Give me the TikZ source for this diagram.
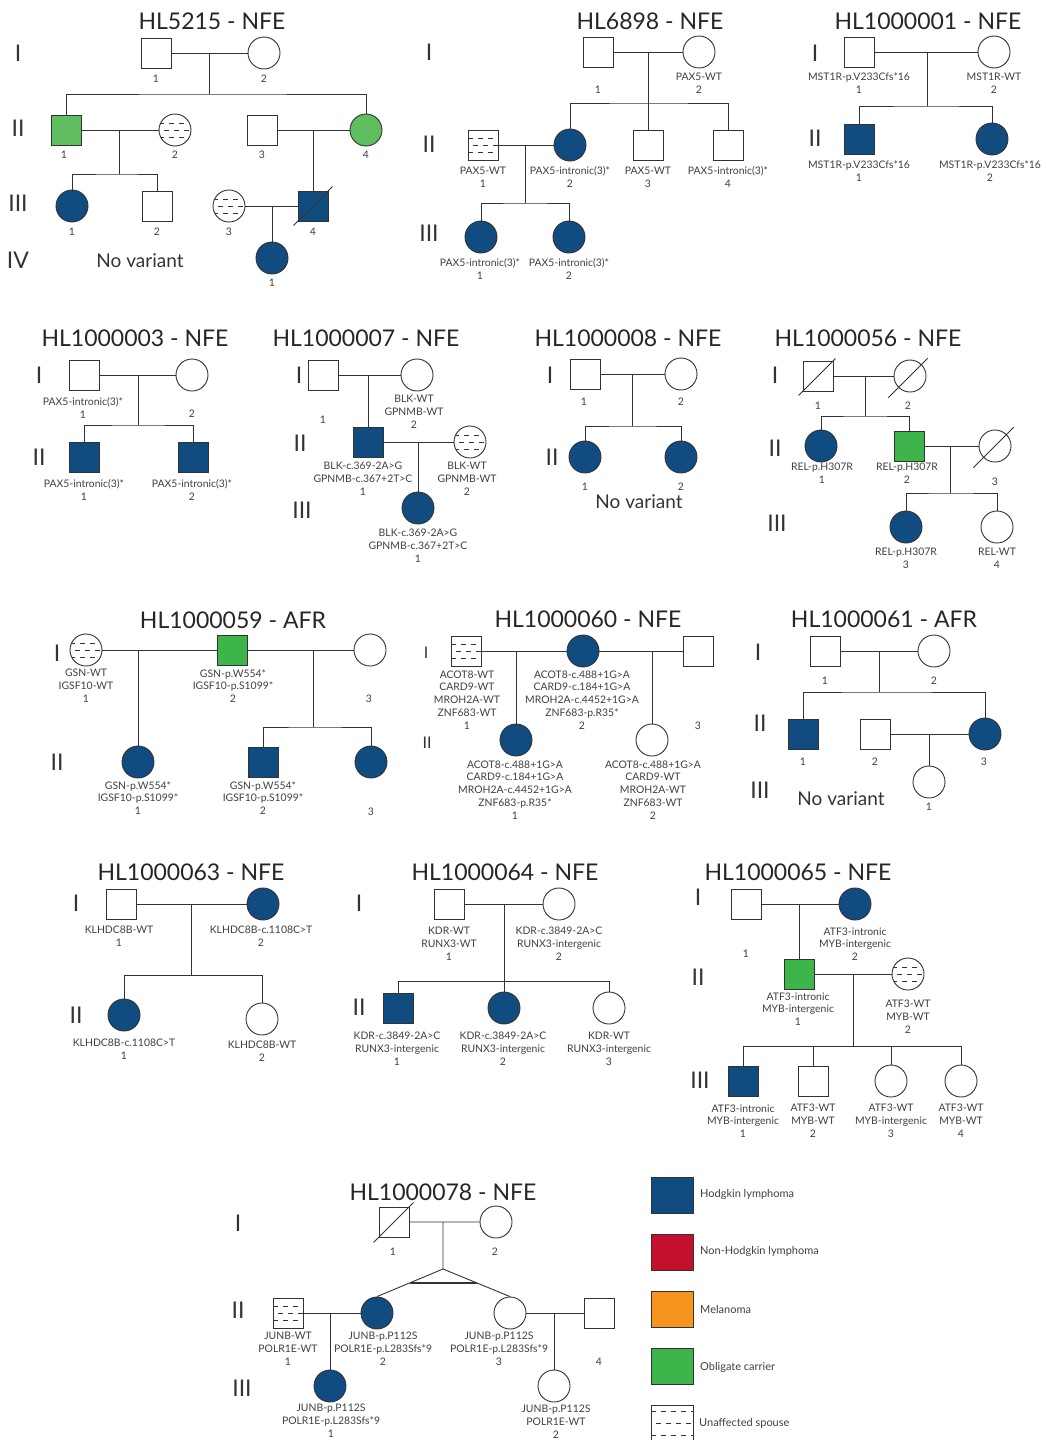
\documentclass[tikz,border=0pt]{standalone}
\usepackage{fontspec}
\setmainfont{Lato}
\usetikzlibrary{calc}
\definecolor{hlblue}{RGB}{17,76,128}
\definecolor{nhlred}{RGB}{196,16,46}
\definecolor{melorange}{RGB}{247,148,29}
\definecolor{ocgreen}{RGB}{61,181,74}
\definecolor{ocgreenlt}{RGB}{96,189,96}
\definecolor{linec}{RGB}{51,51,51}
\definecolor{textc}{RGB}{64,64,64}
\tikzset{
  link/.style={draw=linec, line width=0.9pt},
  ped/.style={draw=linec, line width=0.9pt, inner sep=0pt, fill=white},
  male/.style={ped, rectangle, minimum size=30pt},
  female/.style={ped, circle, minimum size=32pt},
  hl/.style={fill=hlblue},
  oc/.style={fill=ocgreen},
  oclt/.style={fill=ocgreenlt},
  spouse/.style={path picture={
    \foreach \dy/\ph in {#1/0,0/5,-#1/0}
      \draw[linec, line width=0.6pt, dash pattern=on 5pt off 5pt, dash phase=\ph pt]
        ([yshift=\dy pt]path picture bounding box.west) --
        ([yshift=\dy pt]path picture bounding box.east);}},
  spouse/.default=7,
  lbl/.style={font=\fontsize{10.4}{12.8}\selectfont, align=center, inner sep=0pt, text=textc},
  title/.style={font=\fontsize{23}{26}\selectfont, inner sep=0pt, text=black!85},
  gen/.style={font=\fontsize{23}{26}\selectfont, inner sep=0pt, text=black!80},
  smallgen/.style={font=\fontsize{16}{18}\selectfont, inner sep=0pt, text=black!80},
  note/.style={font=\fontsize{19}{22}\selectfont, inner sep=0pt, text=black!80},
  legbox/.style={draw=linec, line width=1pt, inner sep=0pt, minimum width=42pt, minimum height=36pt},
  leglbl/.style={font=\fontsize{11}{13}\selectfont, inner sep=0pt, anchor=west, text=textc}
}
% slash through a deceased person
\newcommand{\deadmark}[3]{\draw[link] ([shift={(-#2,#2)}]#1.south west) -- ([shift={(#3,-#3)}]#1.north east);}

\begin{document}
\begin{tikzpicture}[x=1pt,y=-1pt]
\fill[white] (0,0) rectangle (1045,1440);
\useasboundingbox (0,0) rectangle (1045,1440);

% HL5215
\node[title] (a0) at (212,21) {HL5215 - NFE};
\node[gen] (a0i) at (18,53) {I};
\node[gen] (a0ii) at (18,128) {II};
\node[gen] (a0iii) at (18,203) {III};
\node[gen] (a0iv) at (18,260) {IV};
\node[male] (a11) at (156,53) {};
\node[female] (a12) at (264,53) {};
\node[lbl] (a11l) at (156,79) {1};
\node[lbl] (a12l) at (264,79) {2};
\coordinate (a1m) at (209,53);
\coordinate (a1s) at (209,94);
\node[male,oclt] (a21) at (66,130) {};
\node[female,spouse] (a22) at (175,130) {};
\node[male] (a23) at (262,130) {};
\node[female,oclt] (a24) at (366,130) {};
\node[lbl] (a21l) at (64,155) {1};
\node[lbl] (a22l) at (175,155) {2};
\node[lbl] (a23l) at (262,155) {3};
\node[lbl] (a24l) at (366,155) {4};
\coordinate (a2m) at (119,130);
\coordinate (a2s) at (119,174);
\coordinate (a3m) at (313,130);
\node[female,hl] (a31) at (72,206) {};
\node[male] (a32) at (157,206) {};
\node[female,spouse] (a33) at (229,206) {};
\node[male,hl] (a34) at (313,206) {};
\node[lbl] (a31l) at (72,232) {1};
\node[lbl] (a32l) at (157,232) {2};
\node[lbl] (a33l) at (229,232) {3};
\node[lbl] (a34l) at (313,232) {4};
\coordinate (a4m) at (272,206);
\node[female,hl] (a41) at (272,258) {};
\node[lbl] (a41l) at (272,283) {1};
\node[note] (a0nv) at (140,261) {No variant};
\draw[link] (a11) -- (a12) (a1m) -- (a1s) (a21.north) |- (a1s) -| (a24.north);
\draw[link] (a21) -- (a22) (a2m) -- (a2s) (a31.north) |- (a2s) -| (a32.north);
\draw[link] (a23) -- (a24) (a3m) -- (a34.north);
\draw[link] (a33) -- (a34) (a4m) -- (a41.north);
\deadmark{a34}{4}{4}

% HL6898
\node[title] (b0) at (650,21) {HL6898 - NFE};
\node[gen] (b0i) at (429,52) {I};
\node[gen] (b0ii) at (429,144) {II};
\node[gen] (b0iii) at (429,233) {III};
\node[male] (b11) at (598,52) {};
\node[female] (b12) at (699,52) {};
\node[lbl] (b11l) at (598,90) {1};
\node[lbl] (b12l) at (699,83) {PAX5-WT\\2};
\coordinate (b1m) at (648,52);
\coordinate (b1s) at (648,103);
\node[male,spouse] (b21) at (483,145) {};
\node[female,hl] (b22) at (570,145) {};
\node[male] (b23) at (648,145) {};
\node[male] (b24) at (728,145) {};
\node[lbl] (b21l) at (483,177) {PAX5-WT\\1};
\node[lbl] (b22l) at (570,177) {PAX5-intronic(3)*\\2};
\node[lbl] (b23l) at (648,177) {PAX5-WT\\3};
\node[lbl] (b24l) at (728,177) {PAX5-intronic(3)*\\4};
\coordinate (b2m) at (525,145);
\coordinate (b2s) at (525,203);
\node[female,hl] (b31) at (481,237) {};
\node[female,hl] (b32) at (569,237) {};
\node[lbl] (b31l) at (480,269) {PAX5-intronic(3)*\\1};
\node[lbl] (b32l) at (569,269) {PAX5-intronic(3)*\\2};
\draw[link] (b11) -- (b12) (b1m) -- (b1s) (b22.north) |- (b1s) -| (b24.north) (b1s) -- (b23.north);
\draw[link] (b21) -- (b22) (b2m) -- (b2s) (b31.north) |- (b2s) -| (b32.north);

% HL1000001
\node[title] (c0) at (928,21) {HL1000001 - NFE};
\node[gen] (c0i) at (815,53) {I};
\node[gen] (c0ii) at (815,138) {II};
\node[male] (c11) at (859,52) {};
\node[female] (c12) at (994,52) {};
\node[lbl] (c11l) at (859,83) {MST1R-p.V233Cfs*16\\1};
\node[lbl] (c12l) at (994,83) {MST1R-WT\\2};
\coordinate (c1m) at (927,52);
\coordinate (c1s) at (927,106);
\node[male,hl] (c21) at (859,139) {};
\node[female,hl] (c22) at (992,139) {};
\node[lbl] (c21l) at (859,171) {MST1R-p.V233Cfs*16\\1};
\node[lbl] (c22l) at (990,171) {MST1R-p.V233Cfs*16\\2};
\draw[link] (c11) -- (c12) (c1m) -- (c1s) (c21.north) |- (c1s) -| (c22.north);

% HL1000003
\node[title] (d0) at (135,338) {HL1000003 - NFE};
\node[gen] (d0i) at (39,375) {I};
\node[gen] (d0ii) at (39,457) {II};
\node[male] (d11) at (84,375) {};
\node[female] (d12) at (192,375) {};
\node[lbl] (d11l) at (83,408) {PAX5-intronic(3)*\\1};
\node[lbl] (d12l) at (192,414) {2};
\coordinate (d1m) at (138,375);
\coordinate (d1s) at (138,425);
\node[male,hl] (d21) at (84,457) {};
\node[male,hl] (d22) at (193,457) {};
\node[lbl] (d21l) at (84,490) {PAX5-intronic(3)*\\1};
\node[lbl] (d22l) at (192,490) {PAX5-intronic(3)*\\2};
\draw[link] (d11) -- (d12) (d1m) -- (d1s) (d21.north) |- (d1s) -| (d22.north);

% HL1000007
\node[title] (e0) at (366,338) {HL1000007 - NFE};
\node[gen] (e0i) at (299,375) {I};
\node[gen] (e0ii) at (300,443) {II};
\node[gen] (e0iii) at (302,510) {III};
\node[male] (e11) at (323,375) {};
\node[female] (e12) at (417,375) {};
\node[lbl] (e11l) at (323,420) {1};
\node[lbl] (e12l) at (414,412) {BLK-WT\\GPNMB-WT\\2};
\coordinate (e1m) at (368,375);
\node[male,hl] (e21) at (368,442) {};
\node[female,spouse] (e22) at (470,442) {};
\node[lbl] (e21l) at (363,479) {BLK-c.369-2A>G\\GPNMB-c.367+2T>C\\1};
\node[lbl] (e22l) at (467,479) {BLK-WT\\GPNMB-WT\\2};
\coordinate (e2m) at (418,442);
\node[female,hl] (e31) at (418,508) {};
\node[lbl] (e31l) at (418,546) {BLK-c.369-2A>G\\GPNMB-c.367+2T>C\\1};
\draw[link] (e11) -- (e12) (e1m) -- (e21.north);
\draw[link] (e21) -- (e22) (e2m) -- (e31.north);

% HL1000008
\node[title] (f0) at (628,338) {HL1000008 - NFE};
\node[gen] (f0i) at (550,375) {I};
\node[gen] (f0ii) at (552,457) {II};
\node[male] (f11) at (585,374) {};
\node[female] (f12) at (681,374) {};
\node[lbl] (f11l) at (584,402) {1};
\node[lbl] (f12l) at (681,402) {2};
\coordinate (f1m) at (632,374);
\coordinate (f1s) at (632,426);
\node[female,hl] (f21) at (585,457) {};
\node[female,hl] (f22) at (681,457) {};
\node[lbl] (f21l) at (585,487) {1};
\node[lbl] (f22l) at (681,487) {2};
\node[note] (f0nv) at (639,502) {No variant};
\draw[link] (f11) -- (f12) (f1m) -- (f1s) (f21.north) |- (f1s) -| (f22.north);

% HL1000056
\node[title] (g0) at (868,338) {HL1000056 - NFE};
\node[gen] (g0i) at (775,375) {I};
\node[gen] (g0ii) at (775,448) {II};
\node[gen] (g0iii) at (777,523) {III};
\node[male] (g11) at (818,376) {};
\node[female] (g12) at (910,376) {};
\node[lbl] (g11l) at (818,406) {1};
\node[lbl] (g12l) at (908,406) {2};
\coordinate (g1m) at (865,376);
\coordinate (g1s) at (865,416);
\node[female,hl] (g21) at (821,446) {};
\node[male,oc] (g22) at (909,446) {};
\node[female] (g23) at (995,446) {};
\node[lbl] (g21l) at (822,473) {REL-p.H307R\\1};
\node[lbl] (g22l) at (907,473) {REL-p.H307R\\2};
\node[lbl] (g23l) at (995,482) {3};
\coordinate (g2m) at (950,446);
\coordinate (g2s) at (950,493);
\node[female,hl] (g31) at (906,527) {};
\node[female] (g32) at (997,527) {};
\node[lbl] (g31l) at (906,558) {REL-p.H307R\\3};
\node[lbl] (g32l) at (997,558) {REL-WT\\4};
\draw[link] (g11) -- (g12) (g1m) -- (g1s) (g21.north) |- (g1s) -| (g22.north);
\draw[link] (g22) -- (g23) (g2m) -- (g2s) (g31.north) |- (g2s) -| (g32.north);
\deadmark{g11}{4}{2}
\deadmark{g12}{10}{6}
\deadmark{g23}{10}{7}

% HL1000059
\node[title] (h0) at (233,620) {HL1000059 - AFR};
\node[gen] (h0i) at (57,653) {I};
\node[gen] (h0ii) at (57,762) {II};
\node[female,spouse] (h11) at (86,650) {};
\node[male,oc] (h12) at (232,650) {};
\node[female] (h13) at (370,650) {};
\node[lbl] (h11l) at (86,686) {GSN-WT\\IGSF10-WT\\1};
\node[lbl] (h12l) at (233,686) {GSN-p.W554*\\IGSF10-p.S1099*\\2};
\node[lbl] (h13l) at (369,699) {3};
\coordinate (h1m) at (138,650);
\coordinate (h2m) at (313,650);
\coordinate (h2s) at (313,727);
\node[female,hl] (h21) at (138,762) {};
\node[male,hl] (h22) at (263,762) {};
\node[female,hl] (h23) at (371,762) {};
\node[lbl] (h21l) at (138,798) {GSN-p.W554*\\IGSF10-p.S1099*\\1};
\node[lbl] (h22l) at (263,798) {GSN-p.W554*\\IGSF10-p.S1099*\\2};
\node[lbl] (h23l) at (371,812) {3};
\draw[link] (h11) -- (h12) (h1m) -- (h21.north);
\draw[link] (h12) -- (h13) (h2m) -- (h2s) (h22.north) |- (h2s) -| (h23.north);

% HL1000060
\node[title] (i0) at (588,619) {HL1000060 - NFE};
\node[smallgen] (i0i) at (426,653) {I};
\node[smallgen] (i0ii) at (427,743) {II};
\node[male,spouse] (i11) at (466,651) {};
\node[female,hl] (i12) at (583,651) {};
\node[male] (i13) at (698,651) {};
\node[lbl] (i11l) at (467,700) {ACOT8-WT\\CARD9-WT\\MROH2A-WT\\ZNF683-WT\\1};
\node[lbl] (i12l) at (582,700) {ACOT8-c.488+1G>A\\CARD9-c.184+1G>A\\MROH2A-c.4452+1G>A\\ZNF683-p.R35*\\2};
\node[lbl] (i13l) at (698,726) {3};
\coordinate (i1m) at (516,651);
\coordinate (i2m) at (652,651);
\node[female,hl] (i21) at (516,740) {};
\node[female] (i22) at (652,740) {};
\node[lbl] (i21l) at (515,790) {ACOT8-c.488+1G>A\\CARD9-c.184+1G>A\\MROH2A-c.4452+1G>A\\ZNF683-p.R35*\\1};
\node[lbl] (i22l) at (653,790) {ACOT8-c.488+1G>A\\CARD9-WT\\MROH2A-WT\\ZNF683-WT\\2};
\draw[link] (i11) -- (i12) (i1m) -- (i21.north);
\draw[link] (i12) -- (i13) (i2m) -- (i22.north);

% HL1000061
\node[title] (j0) at (884,619) {HL1000061 - AFR};
\node[gen] (j0i) at (758,652) {I};
\node[gen] (j0ii) at (760,723) {II};
\node[gen] (j0iii) at (760,790) {III};
\node[male] (j11) at (825,651) {};
\node[female] (j12) at (934,651) {};
\node[lbl] (j11l) at (825,681) {1};
\node[lbl] (j12l) at (934,681) {2};
\coordinate (j1m) at (879,651);
\coordinate (j1s) at (879,692);
\node[male,hl] (j21) at (803,734) {};
\node[male] (j22) at (875,734) {};
\node[female,hl] (j23) at (985,734) {};
\node[lbl] (j21l) at (803,762) {1};
\node[lbl] (j22l) at (875,762) {2};
\node[lbl] (j23l) at (984,762) {3};
\coordinate (j2m) at (929,734);
\node[female] (j31) at (929,782) {};
\node[lbl] (j31l) at (929,807) {1};
\node[note] (j0nv) at (841,799) {No variant};
\draw[link] (j11) -- (j12) (j1m) -- (j1s) (j21.north) |- (j1s) -| (j23.north);
\draw[link] (j22) -- (j23) (j2m) -- (j31.north);

% HL1000063
\node[title] (k0) at (191,872) {HL1000063 - NFE};
\node[gen] (k0i) at (76,903) {I};
\node[gen] (k0ii) at (76,1015) {II};
\node[male] (k11) at (121,904) {};
\node[female,hl] (k12) at (263,904) {};
\node[lbl] (k11l) at (119,936) {KLHDC8B-WT\\1};
\node[lbl] (k12l) at (261,936) {KLHDC8B-c.1108C>T\\2};
\coordinate (k1m) at (191,904);
\coordinate (k1s) at (191,975);
\node[female,hl] (k21) at (124,1015) {};
\node[female] (k22) at (262,1019) {};
\node[lbl] (k21l) at (124,1049) {KLHDC8B-c.1108C>T\\1};
\node[lbl] (k22l) at (262,1051) {KLHDC8B-WT\\2};
\draw[link] (k11) -- (k12) (k1m) -- (k1s) (k21.north) |- (k1s) -| (k22.north);

% HL1000064
\node[title] (l0) at (505,872) {HL1000064 - NFE};
\node[gen] (l0i) at (359,903) {I};
\node[gen] (l0ii) at (359,1007) {II};
\node[male] (l11) at (449,904) {};
\node[female] (l12) at (559,904) {};
\node[lbl] (l11l) at (449,944) {KDR-WT\\RUNX3-WT\\1};
\node[lbl] (l12l) at (559,944) {KDR-c.3849-2A>C\\RUNX3-intergenic\\2};
\coordinate (l1m) at (504,904);
\coordinate (l1s) at (504,981);
\node[male,hl] (l21) at (398,1008) {};
\node[female,hl] (l22) at (504,1008) {};
\node[female] (l23) at (609,1008) {};
\node[lbl] (l21l) at (397,1049) {KDR-c.3849-2A>C\\RUNX3-intergenic\\1};
\node[lbl] (l22l) at (503,1049) {KDR-c.3849-2A>C\\RUNX3-intergenic\\2};
\node[lbl] (l23l) at (609,1049) {KDR-WT\\RUNX3-intergenic\\3};
\draw[link] (l11) -- (l12) (l1m) -- (l1s) (l21.north) |- (l1s) -| (l23.north) (l1s) -- (l22.north);

% HL1000065
\node[title] (m0) at (798,872) {HL1000065 - NFE};
\node[gen] (m0i) at (698,897) {I};
\node[gen] (m0ii) at (698,977) {II};
\node[gen] (m0iii) at (700,1080) {III};
\node[male] (m11) at (746,904) {};
\node[female,hl] (m12) at (855,904) {};
\node[lbl] (m11l) at (746,954) {1};
\node[lbl] (m12l) at (855,944) {ATF3-intronic\\MYB-intergenic\\2};
\coordinate (m1m) at (799,904);
\node[male,oc] (m21) at (799,974) {};
\node[female,spouse] (m22) at (908,974) {};
\node[lbl] (m21l) at (798,1009) {ATF3-intronic\\MYB-intergenic\\1};
\node[lbl] (m22l) at (908,1017) {ATF3-WT\\MYB-WT\\2};
\coordinate (m2m) at (853,974);
\coordinate (m2s) at (853,1046);
\node[male,hl] (m31) at (743,1081) {};
\node[male] (m32) at (813,1081) {};
\node[female] (m33) at (891,1081) {};
\node[female] (m34) at (961,1081) {};
\node[lbl] (m31l) at (743,1121) {ATF3-intronic\\MYB-intergenic\\1};
\node[lbl] (m32l) at (813,1121) {ATF3-WT\\MYB-WT\\2};
\node[lbl] (m33l) at (891,1121) {ATF3-WT\\MYB-intergenic\\3};
\node[lbl] (m34l) at (961,1121) {ATF3-WT\\MYB-WT\\4};
\draw[link] (m11) -- (m12) (m1m) -- (m21.north);
\draw[link] (m21) -- (m22) (m2m) -- (m2s) (m31.north) |- (m2s) -| (m34.north);
\draw[link] (m32.north) -- (m32.north |- m2s) (m33.north) -- (m33.north |- m2s);

% HL1000078
\node[title] (n0) at (443,1192) {HL1000078 - NFE};
\node[gen] (n0i) at (238,1223) {I};
\node[gen] (n0ii) at (238,1310) {II};
\node[gen] (n0iii) at (242,1388) {III};
\node[male] (n11) at (394,1222) {};
\node[female] (n12) at (496,1222) {};
\node[lbl] (n11l) at (393,1252) {1};
\node[lbl] (n12l) at (495,1252) {2};
\coordinate (n1m) at (443,1222);
\coordinate (n1t) at (443,1269);
\node[male,spouse] (n21) at (288,1313) {};
\node[female,hl] (n22) at (377,1313) {};
\node[female] (n23) at (510,1313) {};
\node[male] (n24) at (599,1313) {};
\node[lbl] (n21l) at (288,1349) {JUNB-WT\\POLR1E-WT\\1};
\node[lbl] (n22l) at (383,1349) {JUNB-p.P112S\\POLR1E-p.L283Sfs*9\\2};
\node[lbl] (n23l) at (499,1349) {JUNB-p.P112S\\POLR1E-p.L283Sfs*9\\3};
\node[lbl] (n24l) at (599,1362) {4};
\coordinate (n2m) at (330,1313);
\coordinate (n3m) at (554,1313);
\node[female,hl] (n31) at (330,1386) {};
\node[female] (n32) at (554,1386) {};
\node[lbl] (n31l) at (331,1421) {JUNB-p.P112S\\POLR1E-p.L283Sfs*9\\1};
\node[lbl] (n32l) at (556,1422) {JUNB-p.P112S\\POLR1E-WT\\2};
\draw[link] (n11) -- (n12) (n1m) -- (n1t) (n22.north) -- (n1t) -- (n23.north);
\draw[link, line width=1.6pt] ($(n1t)!0.5!(n22.north)$) -- ($(n1t)!0.5!(n23.north)$);
\draw[link] (n21) -- (n22) (n2m) -- (n31.north);
\draw[link] (n23) -- (n24) (n3m) -- (n32.north);
\deadmark{n11}{5}{4}

% legend
\node[legbox,fill=hlblue] (q1) at (672,1195) {};
\node[legbox,fill=nhlred] (q2) at (672,1252) {};
\node[legbox,fill=melorange] (q3) at (672,1309) {};
\node[legbox,fill=ocgreen] (q4) at (672,1366) {};
\node[legbox,fill=white,spouse=12] (q5) at (672,1423) {};
\node[leglbl] (q1l) at (700,1194) {Hodgkin lymphoma};
\node[leglbl] (q2l) at (700,1251) {Non-Hodgkin lymphoma};
\node[leglbl] (q3l) at (700,1309) {Melanoma};
\node[leglbl] (q4l) at (700,1367) {Obligate carrier};
\node[leglbl] (q5l) at (699,1423) {Unaffected spouse};
\end{tikzpicture}
\end{document}
